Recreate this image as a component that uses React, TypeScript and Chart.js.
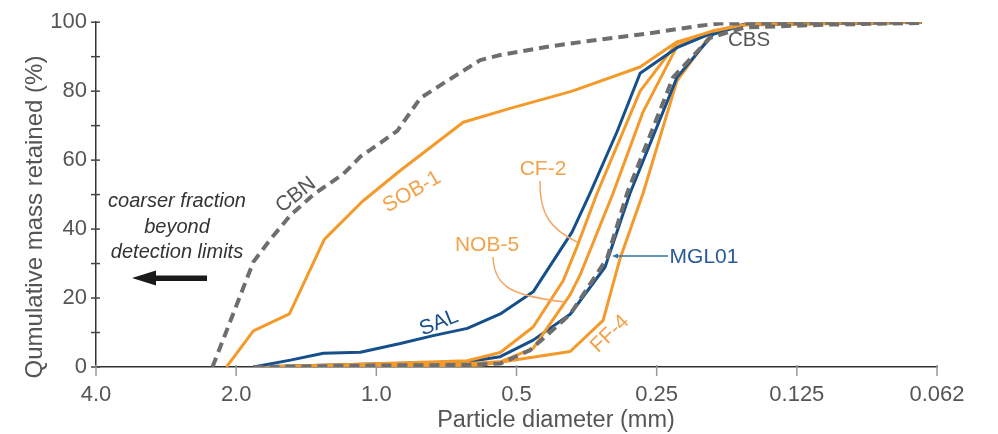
import React, { useEffect, useRef } from "react";
import { Chart, registerables } from "chart.js";
Chart.register(...registerables);

// x values are in phi units (phi = -log2(d mm)); tick labels show diameters in mm
const tickPhi = [-2, -1, 0, 1, 2, 3, 4];
const tickLabels = ["4.0", "2.0", "1.0", "0.5", "0.25", "0.125", "0.062"];
const yTicks = [0, 10, 20, 30, 40, 50, 60, 70, 80, 90, 100];

const cbnPhi = [-1.169, -0.877, -0.756, -0.613, -0.449, -0.235, -0.114, 0.029, 0.15, 0.314, 0.506, 0.741, 0.884, 1.24, 1.597, 1.917, 2.309, 2.452, 3.892];
const cbnPct = [0, 30.5, 37, 44, 50, 56, 61, 65, 68.5, 78, 83, 89, 90.5, 93, 95, 96.6, 99, 99.6, 100];

const sobPhi = [-1.069, -0.877, -0.62, -0.371, -0.1, 0.171, 0.62, 0.955, 1.397, 1.882, 2.145, 2.402, 2.63, 3.892];
const sobPct = [0, 10.5, 15.4, 37, 48, 57, 71, 75, 80, 87, 94.3, 97.4, 99.3, 100];

const salPhi = [-0.877, -0.613, -0.378, -0.114, 0.171, 0.406, 0.649, 0.884, 1.119, 1.397, 1.525, 1.718, 1.882, 2.145, 2.381, 2.63, 3.892];
const salPct = [0, 2, 4, 4.3, 6.8, 9.1, 11.2, 15.4, 21.8, 39.2, 50.4, 68.3, 85.2, 92.6, 96.6, 99.4, 100];

const cf2Phi = [-0.877, -0.114, 0.649, 0.884, 1.119, 1.333, 1.433, 1.575, 1.882, 2.145, 2.402, 2.63, 3.892];
const cf2Pct = [0, 0.8, 1.8, 4.2, 11.6, 25, 35, 50.4, 80, 94, 97.5, 99.3, 100];

const nob5Phi = [-0.877, -0.114, 0.649, 0.884, 1.119, 1.383, 1.454, 1.689, 1.903, 2.145, 2.402, 2.63, 3.892];
const nob5Pct = [0, 0.5, 1, 1.5, 5.4, 21, 26.7, 50.4, 74, 93, 97.3, 99.2, 100];

const cbsPhi = [-0.877, 0.171, 0.649, 0.884, 1.098, 1.383, 1.646, 1.789, 2.117, 2.381, 2.63, 3.236, 3.892];
const cbsPct = [0, 0.5, 0.6, 1, 4.9, 15.3, 31.5, 50.4, 84, 95.5, 98.5, 99.3, 99.8];

const mglPhi = [-0.877, -0.114, 0.649, 0.884, 1.119, 1.383, 1.632, 1.81, 2.145, 2.402, 2.63, 3.892];
const mglPct = [0, 0.8, 1.5, 3, 7.8, 15.3, 29, 50.4, 84, 96.5, 99.3, 100];

const ff4Phi = [-0.877, 0.741, 1.383, 1.618, 1.739, 1.903, 2.145, 2.402, 2.63, 3.892];
const ff4Pct = [0, 0.5, 4.5, 13.5, 31.5, 50.4, 83, 97.3, 99.5, 100];

const ORANGE = "#F39A2B";
const ORANGE_TXT = "#F3A24A";
const BLUE = "#15508C";
const GRAY = "#6E6E6E";
const FONT = "'Liberation Sans', Arial, sans-serif";

const pts = (xs: number[], ys: number[]) => xs.map((x, i) => ({ x, y: ys[i] }));

const solid = (label: string, xs: number[], ys: number[], color: string) => ({
  label,
  data: pts(xs, ys),
  borderColor: color,
  borderWidth: 3,
  pointRadius: 0,
  tension: 0,
  borderJoinStyle: "round" as const,
  fill: false,
});
const dashed = (label: string, xs: number[], ys: number[]) => ({
  ...solid(label, xs, ys, GRAY),
  borderWidth: 4,
  borderDash: [10, 6],
  borderCapStyle: "butt" as const,
});

const annotPlugin = {
  id: "annot",
  afterDraw(chart: any) {
    const ctx: CanvasRenderingContext2D = chart.ctx;
    const { left, bottom } = chart.chartArea;
    const xs = chart.scales.x;
    const ys = chart.scales.y;
    ctx.save();
    // tick marks
    ctx.lineWidth = 1.5;
    ctx.strokeStyle = "#444";
    for (const v of yTicks) {
      const py = ys.getPixelForValue(v);
      ctx.beginPath();
      ctx.moveTo(left - 5, py);
      ctx.lineTo(left + 4, py);
      ctx.stroke();
    }
    ctx.strokeStyle = "#999";
    for (const p of tickPhi) {
      const px = xs.getPixelForValue(p);
      ctx.beginPath();
      ctx.moveTo(px, bottom - 2);
      ctx.lineTo(px, bottom + 9);
      ctx.stroke();
    }

    const text = (s: string, x: number, y: number, color: string, size: number, rot = 0, style = "") => {
      ctx.save();
      ctx.translate(x, y);
      ctx.rotate((rot * Math.PI) / 180);
      ctx.font = `${style} ${size}px ${FONT}`;
      ctx.fillStyle = color;
      ctx.textAlign = "center";
      ctx.textBaseline = "middle";
      ctx.fillText(s, 0, 0);
      ctx.restore();
    };

    // axis titles
    text("Qumulative mass retained (%)", 35, 217, "#555", 24, -90);
    text("Particle diameter (mm)", 556, 421, "#555", 23.5);

    // series labels
    text("CBN", 296, 195, "#555", 21, -38);
    text("SOB-1", 412, 192, ORANGE_TXT, 21, -30);
    text("SAL", 439, 323, BLUE, 21, -22);
    text("FF-4", 610, 334, ORANGE_TXT, 21, -44);
    text("CF-2", 543, 169, ORANGE_TXT, 21);
    text("NOB-5", 487, 245, ORANGE_TXT, 21);
    text("MGL01", 704, 257, "#2A5A9C", 21);
    text("CBS", 749, 40, "#555", 20.5);

    // note
    text("coarser fraction", 177, 201, "#333", 20, 0, "italic");
    text("beyond", 177, 227, "#333", 20, 0, "italic");
    text("detection limits", 177, 252, "#333", 20, 0, "italic");

    // arrow
    ctx.fillStyle = "#1a1a1a";
    ctx.fillRect(150, 275.5, 57, 5.5);
    ctx.beginPath();
    ctx.moveTo(132, 278);
    ctx.lineTo(156, 270.5);
    ctx.lineTo(156, 285.5);
    ctx.closePath();
    ctx.fill();

    // leader lines
    ctx.lineWidth = 1.5;
    ctx.strokeStyle = "#F4A766";
    ctx.beginPath();
    ctx.moveTo(540, 181);
    ctx.bezierCurveTo(539, 215, 552, 230, 577, 242);
    ctx.stroke();
    ctx.beginPath();
    ctx.moveTo(493, 257);
    ctx.bezierCurveTo(494, 287, 512, 296, 565, 302);
    ctx.stroke();
    ctx.strokeStyle = "#2F74A8";
    ctx.beginPath();
    ctx.moveTo(668, 256);
    ctx.lineTo(615, 256);
    ctx.stroke();
    ctx.fillStyle = "#2F74A8";
    ctx.beginPath();
    ctx.moveTo(612, 256);
    ctx.lineTo(618, 253.5);
    ctx.lineTo(618, 258.5);
    ctx.closePath();
    ctx.fill();
    ctx.restore();
  },
};

export default function App() {
  const ref = useRef<HTMLCanvasElement>(null);
  useEffect(() => {
    document.body.style.margin = "0";
    Chart.defaults.font.family = FONT;
    const chart = new Chart(ref.current!, {
      type: "line",
      data: {
        datasets: [
          dashed("CBN", cbnPhi, cbnPct),
          dashed("CBS", cbsPhi, cbsPct),
          solid("SOB-1", sobPhi, sobPct, ORANGE),
          solid("SAL", salPhi, salPct, BLUE),
          solid("CF-2", cf2Phi, cf2Pct, ORANGE),
          solid("NOB-5", nob5Phi, nob5Pct, ORANGE),
          solid("MGL01", mglPhi, mglPct, BLUE),
          solid("FF-4", ff4Phi, ff4Pct, ORANGE),
        ] as any,
      },
      options: {
        animation: false,
        responsive: false,
        layout: { padding: { top: 16, right: 61, left: 0, bottom: 0 } },
        plugins: { legend: { display: false }, tooltip: { enabled: false } },
        scales: {
          x: {
            type: "linear",
            min: -2,
            max: 4,
            grid: { display: false, drawTicks: false },
            border: { display: true, color: "#333", width: 1.5 },
            ticks: {
              stepSize: 1,
              padding: 15,
              autoSkip: false,
              maxRotation: 0,
              color: "#555",
              font: { size: 22 },
              callback: (v: any) => {
                const i = tickPhi.indexOf(Math.round(Number(v)));
                return i >= 0 ? tickLabels[i] : "";
              },
            },
            afterFit: (s: any) => {
              s.height = 67;
            },
          },
          y: {
            min: 0,
            max: 100,
            grid: { display: false, drawTicks: false },
            border: { display: true, color: "#333", width: 1.5 },
            ticks: {
              stepSize: 10,
              padding: 9,
              autoSkip: false,
              color: "#555",
              font: { size: 22 },
              callback: (v: any) => (Number(v) % 20 === 0 ? String(v) : ""),
            },
            afterFit: (s: any) => {
              s.width = 96;
            },
          },
        },
      },
      plugins: [annotPlugin],
    });
    return () => chart.destroy();
  }, []);
  return <canvas ref={ref} width={998} height={434} style={{ display: "block" }} />;
}
